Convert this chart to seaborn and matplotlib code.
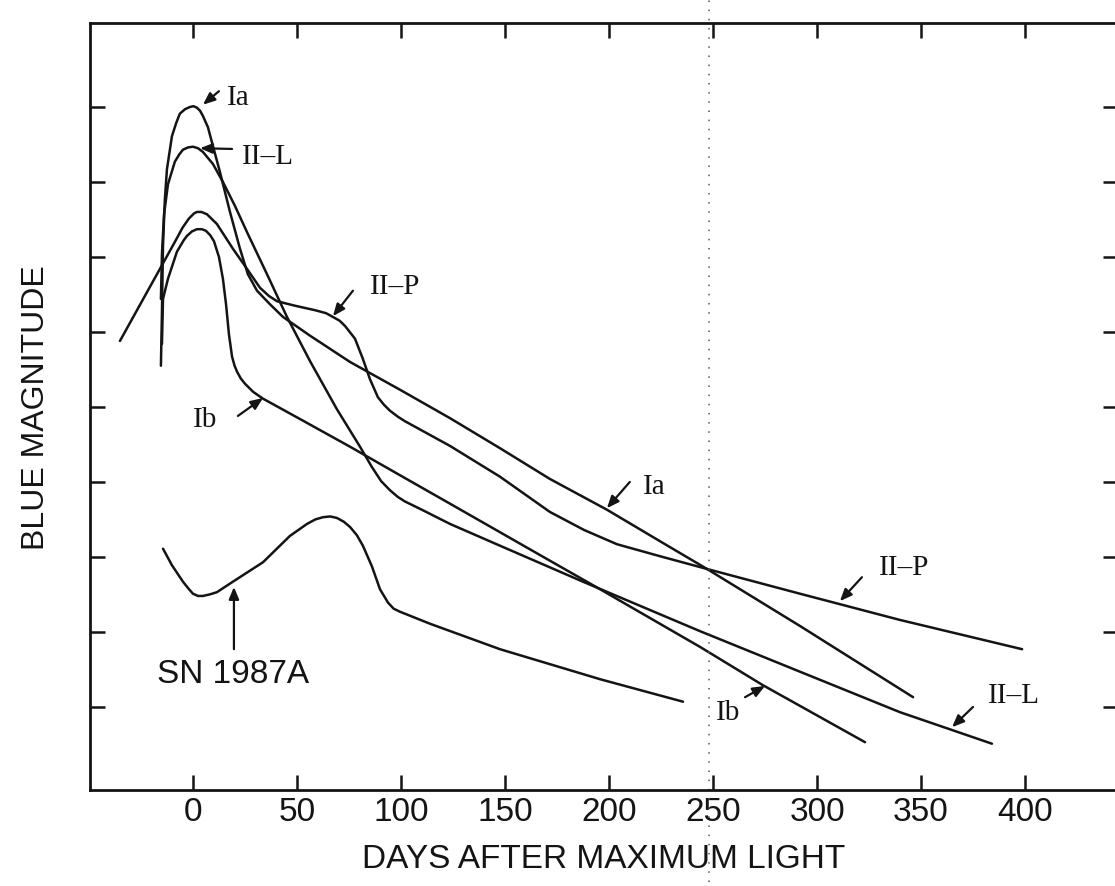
import matplotlib
matplotlib.use("Agg")
import matplotlib.pyplot as plt
import seaborn as sns
import pandas as pd

# ---- schematic blue light curves (days after maximum, relative magnitude) ----
ia_days = [-15.4, -14.9, -14.4, -13.5, -12.5, -10.1, -8.0, -6.3, -3.8, -1.4, 0.3,
           1.9, 3.4, 4.8, 7.2, 9.6, 13.0, 17.8, 22.6, 26.4, 30.8, 37.0, 43.3, 56.3,
           75.5, 99.5, 123.6, 147.6, 171.6, 199.0, 224.5, 247.1, 291.8, 346.2]
ia_mags = [4.45, 3.73, 2.85, 2.23, 1.83, 1.39, 1.21, 1.09, 1.03, 1.00, 0.99,
           1.01, 1.05, 1.12, 1.27, 1.52, 1.87, 2.40, 2.89, 3.23, 3.45, 3.63, 3.80, 4.05,
           4.40, 4.77, 5.15, 5.55, 5.96, 6.37, 6.79, 7.16, 7.92, 8.87]

iil_days = [-15.4, -14.9, -13.9, -12.0, -8.7, -6.5, -4.8, -2.4, 0.0, 2.4, 4.8, 9.6,
            14.4, 20.2, 26.0, 35.6, 45.2, 56.3, 69.2, 80.3, 86.0, 90.5, 94.7, 98.5,
            101.9, 110.0, 123.6, 147.6, 187.5, 243.8, 291.8, 339.9, 384.1]
iil_mags = [3.56, 2.96, 2.43, 2.03, 1.73, 1.63, 1.57, 1.54, 1.53, 1.55, 1.60, 1.76,
            2.00, 2.32, 2.67, 3.23, 3.80, 4.39, 5.03, 5.53, 5.80, 5.99, 6.11, 6.20,
            6.26, 6.37, 6.56, 6.85, 7.33, 7.99, 8.53, 9.07, 9.49]

iip_days = [-35.1, -25.5, -15.9, -8.7, -5.0, -2.0, 0.5, 1.9, 4.0, 6.7, 11.5, 19.2,
            26.0, 32.2, 36.5, 40.4, 49.0, 58.7, 64.0, 67.3, 70.5, 73.1, 77.9, 81.7,
            85.1, 88.9, 91.8, 94.7, 98.5, 101.9, 123.6, 147.6, 171.6, 188.0, 203.8,
            224.5, 247.1, 291.8, 339.9, 398.6]
iip_mags = [4.12, 3.64, 3.16, 2.80, 2.61, 2.49, 2.42, 2.40, 2.40, 2.43, 2.56, 2.89,
            3.16, 3.41, 3.52, 3.59, 3.65, 3.71, 3.75, 3.80, 3.85, 3.92, 4.09, 4.36,
            4.63, 4.87, 4.97, 5.05, 5.13, 5.19, 5.52, 5.93, 6.40, 6.64, 6.83,
            6.99, 7.16, 7.49, 7.84, 8.23]

ib_days = [-14.9, -14.4, -12.0, -7.7, -4.5, -2.9, -0.5, 1.9, 4.2, 6.2, 8.3, 10.1,
           12.5, 14.4, 15.9, 17.3, 18.8, 20.0, 21.2, 23.0, 25.0, 29.0, 33.7, 51.4,
           75.5, 99.5, 123.6, 147.6, 171.6, 195.7, 243.8, 274.0, 323.1]
ib_mags = [4.16, 3.56, 3.29, 2.93, 2.78, 2.72, 2.66, 2.63, 2.63, 2.65, 2.71, 2.79,
           3.00, 3.29, 3.63, 4.03, 4.33, 4.45, 4.53, 4.62, 4.69, 4.80, 4.89, 5.16,
           5.53, 5.91, 6.29, 6.67, 7.05, 7.43, 8.20, 8.71, 9.47]

sn87_days = [-14.4, -10.1, -4.8, -2.2, 0.0, 2.4, 4.8, 8.0, 11.5, 19.2, 33.7, 46.6,
             54.8, 58.8, 62.5, 66.0, 69.2, 72.5, 75.5, 78.8, 81.7, 86.1, 89.9, 93.8,
             96.5, 99.5, 113.9, 147.6, 195.7, 235.6]
sn87_mags = [6.89, 7.11, 7.33, 7.42, 7.49, 7.52, 7.52, 7.50, 7.47, 7.33, 7.07, 6.72,
             6.56, 6.50, 6.47, 6.46, 6.48, 6.53, 6.60, 6.71, 6.85, 7.13, 7.43, 7.61,
             7.69, 7.73, 7.89, 8.23, 8.63, 8.93]

day_ticks = [0, 50, 100, 150, 200, 250, 300, 350, 400]
mag_ticks = [1, 2, 3, 4, 5, 6, 7, 8, 9]

curves = pd.concat([
    pd.DataFrame({"day": ia_days, "mag": ia_mags, "type": "Ia"}),
    pd.DataFrame({"day": iil_days, "mag": iil_mags, "type": "II-L"}),
    pd.DataFrame({"day": iip_days, "mag": iip_mags, "type": "II-P"}),
    pd.DataFrame({"day": ib_days, "mag": ib_mags, "type": "Ib"}),
    pd.DataFrame({"day": sn87_days, "mag": sn87_mags, "type": "SN 1987A"}),
], ignore_index=True)

sns.set_theme(style="ticks")
plt.rcParams["font.family"] = ["Liberation Sans", "DejaVu Sans"]

ink = "#141414"
fig = plt.figure(figsize=(11.15, 8.87), dpi=100)
ax = fig.add_axes([0.0807, 0.108, 0.922, 0.865])

for name, grp in curves.groupby("type", sort=False):
    sns.lineplot(data=grp, x="day", y="mag", ax=ax, color=ink, lw=1.8,
                 sort=False, estimator=None, legend=False)

ax.set_xlim(-49.5, 444.7)
ax.set_ylim(10.11, -0.12)
ax.set_xticks(day_ticks)
ax.set_xticklabels([str(d) for d in day_ticks], fontsize=24, color=ink)
ax.set_yticks(mag_ticks)
ax.set_yticklabels([])
ax.tick_params(axis="both", direction="in", top=True, right=True,
               length=11, width=1.8, color=ink, pad=4)
ax.tick_params(axis="x", labeltop=False)
for sp in ax.spines.values():
    sp.set_linewidth(2.0)
    sp.set_color(ink)

ax.set_xlabel("DAYS AFTER MAXIMUM LIGHT", fontsize=24, color=ink, labelpad=12)
ax.set_ylabel("BLUE MAGNITUDE", fontsize=23, color=ink, labelpad=24)

# faint dotted fold line across the page
ax.axvline(248, ymin=-0.12, ymax=1.05, clip_on=False, color="0.35",
           lw=1.1, ls=(0, (1, 5)))

# ---- curve labels with pointer arrows ----
serif = ["Liberation Serif", "DejaVu Serif"]
labels = [
    # text, text position, arrow tail, arrow tip
    ("Ia", (21.6, 0.87), (12.5, 0.79), (4.8, 0.97)),
    ("II\u2013L", (36.1, 1.65), (18.8, 1.56), (3.4, 1.55)),
    ("II\u2013P", (97.1, 3.39), (76.9, 3.45), (67.3, 3.79)),
    ("Ib", (5.8, 5.16), (21.6, 5.12), (33.7, 4.88)),
    ("Ia", (222.0, 6.05), (210.0, 6.00), (199.0, 6.35)),
    ("II\u2013P", (341.8, 7.13), (321.6, 7.27), (311.0, 7.59)),
    ("Ib", (257.2, 9.07), (265.4, 8.87), (275.0, 8.72)),
    ("II\u2013L", (394.7, 8.84), (375.0, 9.00), (364.9, 9.27)),
]
for txt, tpos, tail, tip in labels:
    ax.text(tpos[0], tpos[1], txt, family=serif, fontsize=21, color=ink,
            ha="center", va="center")
    ax.annotate("", xy=tip, xytext=tail,
                arrowprops=dict(arrowstyle="-|>,head_length=0.6,head_width=0.25",
                                color=ink, lw=1.6, shrinkA=0, shrinkB=0))

ax.text(19.2, 8.56, "SN 1987A", fontsize=24, color=ink, ha="center", va="center")
ax.annotate("", xy=(19.7, 7.40), xytext=(19.7, 8.23),
            arrowprops=dict(arrowstyle="-|>,head_length=0.6,head_width=0.25",
                            color=ink, lw=1.6, shrinkA=0, shrinkB=0))

fig.savefig("out.png", dpi=100, facecolor="white")
